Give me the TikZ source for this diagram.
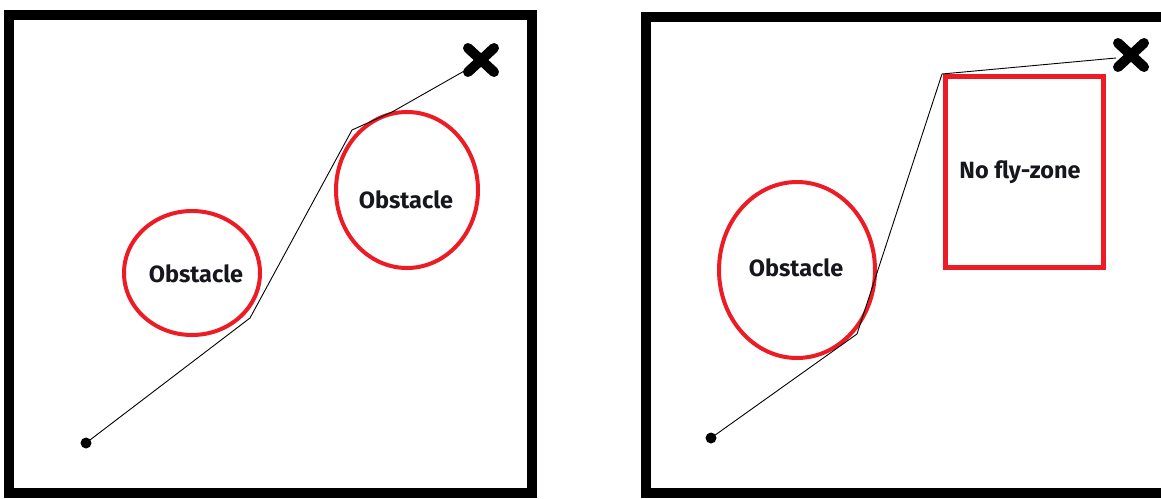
\documentclass[tikz,border=0pt]{standalone}
\usepackage{fontspec}
\setmainfont{Fira Sans}
\usetikzlibrary{calc}
\begin{document}
\begin{tikzpicture}[x=1pt,y=-1pt,
  frame/.style={draw=black,line width=10pt},
  obst/.style={draw=obsred,line width=4pt},
  nofly/.style={draw=obsred,line width=5pt},
  route/.style={draw=black,line width=0.9pt},
  lbl/.style={font=\fontsize{23.5}{26}\selectfont\bfseries,text=lbltext},
  startdot/.style={circle,fill=black,inner sep=0pt,minimum size=11pt},
  xmark/.style={line width=10pt,line cap=round}]
\definecolor{obsred}{RGB}{237,28,36}
\definecolor{lbltext}{RGB}{22,22,30}
\useasboundingbox (0,0) rectangle (1161,498);
\clip (0,0) rectangle (1161,498);
% frames
\draw[frame] (9,15) rectangle (532,493);
\draw[frame] (645.5,17) rectangle (1175,493);
% ---- left panel
\draw[obst] (192,273) ellipse [x radius=68, y radius=62];
\node[lbl] (o1) at (196,274) {Obstacle};
\draw[obst] (407,190) ellipse [x radius=71, y radius=78];
\node[lbl] (o2) at (406,200) {Obstacle};
\node[startdot] (s1) at (86,443) {};
\coordinate (a1) at (250,318);
\coordinate (a2) at (352,130);
\coordinate (a3) at (392,112);
\coordinate (g1) at (466,70);
\draw[route] (s1.center) -- (a1) -- (a2) -- (a3) -- (g1);
\coordinate (x1) at (481,60);
\draw[xmark] ($(x1)+(-13,-12)$) -- ($(x1)+(13,12)$);
\draw[xmark] ($(x1)+(13,-12)$) -- ($(x1)+(-13,12)$);
% ---- right panel
\draw[obst] (797,270) ellipse [x radius=78, y radius=88];
\node[lbl] (o3) at (796,268) {Obstacle};
\draw[nofly] (945,76) rectangle (1103,267);
\node[lbl] (nf) at (1020,172) {No fly-zone};
\node[startdot] (s2) at (711,438) {};
\coordinate (b1) at (857,334);
\coordinate (b2) at (942,74);
\coordinate (g2) at (1116,58);
\draw[route] (s2.center) -- (b1) -- (b2) -- (g2);
\coordinate (x2) at (1131,55);
\draw[xmark] ($(x2)+(-13,-12)$) -- ($(x2)+(13,12)$);
\draw[xmark] ($(x2)+(13,-12)$) -- ($(x2)+(-13,12)$);
\end{tikzpicture}
\end{document}
